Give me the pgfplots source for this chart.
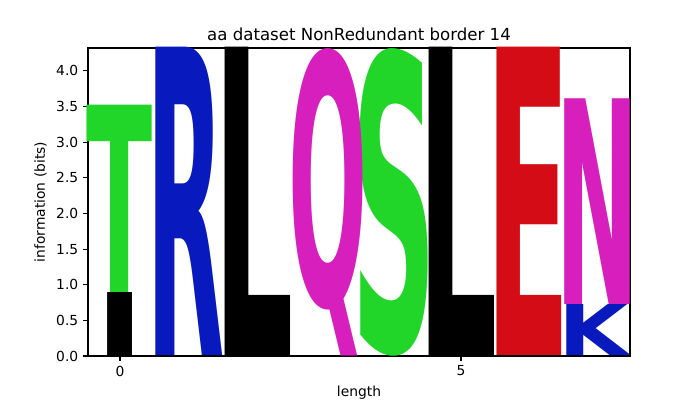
\documentclass[border=0pt]{standalone}
\usepackage{pgfplots}
\pgfplotsset{compat=1.18}
\usepackage{pgfplotstable}
\usepackage{graphicx}
\usepackage{fontspec}
\setmainfont{DejaVu Sans}

\definecolor{lgreen}{RGB}{33,214,41}
\definecolor{lblue}{RGB}{8,25,189}
\definecolor{lmagenta}{RGB}{214,31,188}
\definecolor{lred}{RGB}{212,12,22}

% x: position, y: bottom of letter, h: letter height (bits),
% w: glyph box width, dx: small centring correction (positions)
\pgfplotstableread{
x y h w dx l
0 0 0.884 0.72 0 I
2 0 4.3219 1.18 -0.045 L
5 0 4.3219 1.18 -0.045 L
}\blackletters
\pgfplotstableread{
x y h w dx l
0 0.884 2.626 0.97 0 T
4 0 4.317 1.25 0.015 S
}\greenletters
\pgfplotstableread{
x y h w dx l
1 0 4.3219 1.146 -0.032 R
7 0 0.716 1.025 -0.06 K
}\blueletters
\pgfplotstableread{
x y h w dx l
3 0 4.31 1.16 0.044 Q
7 0.716 2.884 1.23 0 N
}\magentaletters
\pgfplotstableread{
x y h w dx l
6 0 4.3219 1.25 -0.015 E
}\redletters

\pgfplotsset{
  logo/.style={
    draw=none, mark=none,
    point meta=explicit symbolic,
    visualization depends on={51.31*\thisrow{h} \as \H},
    visualization depends on={49.105*\thisrow{w} \as \W},
    visualization depends on={49.105*\thisrow{dx} \as \DX},
    nodes near coords={\resizebox*{\W bp}{\H bp}{\bfseries\pgfplotspointmeta}},
    every node near coord/.append style={anchor=south, inner sep=0pt, outer sep=0pt, text=#1, xshift=\DX bp},
  },
}

\begin{document}
\begin{tikzpicture}
\path[use as bounding box] (-63.36bp,-31.68bp) rectangle ++(504bp,288bp);
\begin{axis}[
    width=390.24bp, height=221.76bp, scale only axis,
    xmin=-0.469, xmax=7.478,
    ymin=0, ymax=4.3219,
    xtick={0,5},
    ytick={0,0.5,...,4.0},
    yticklabel style={/pgf/number format/.cd, fixed, fixed zerofill, precision=1},
    /pgf/number format/assume math mode=true,
    tick align=outside, tick pos=left,
    major tick length=3.5bp,
    axis line style={line width=0.8bp},
    every tick/.style={black, line width=0.8bp},
    ticklabel style={font=\fontsize{10}{12}\selectfont},
    label style={font=\fontsize{10}{12}\selectfont},
    title={aa dataset NonRedundant border 14},
    title style={font=\fontsize{12}{14}\selectfont, at={(0.5,1)}, anchor=base, yshift=-0.3bp},
    xlabel={length},
    xlabel style={at={(0.5,0)}, anchor=base, yshift=-29.5bp},
    ylabel={information (bits)},
    clip=true,
]
\addplot[logo=black] table[x=x, y=y, meta=l] {\blackletters};
\addplot[logo=lgreen] table[x=x, y=y, meta=l] {\greenletters};
\addplot[logo=lblue] table[x=x, y=y, meta=l] {\blueletters};
\addplot[logo=lmagenta] table[x=x, y=y, meta=l] {\magentaletters};
\addplot[logo=lred] table[x=x, y=y, meta=l] {\redletters};
\end{axis}
\end{tikzpicture}
\end{document}
